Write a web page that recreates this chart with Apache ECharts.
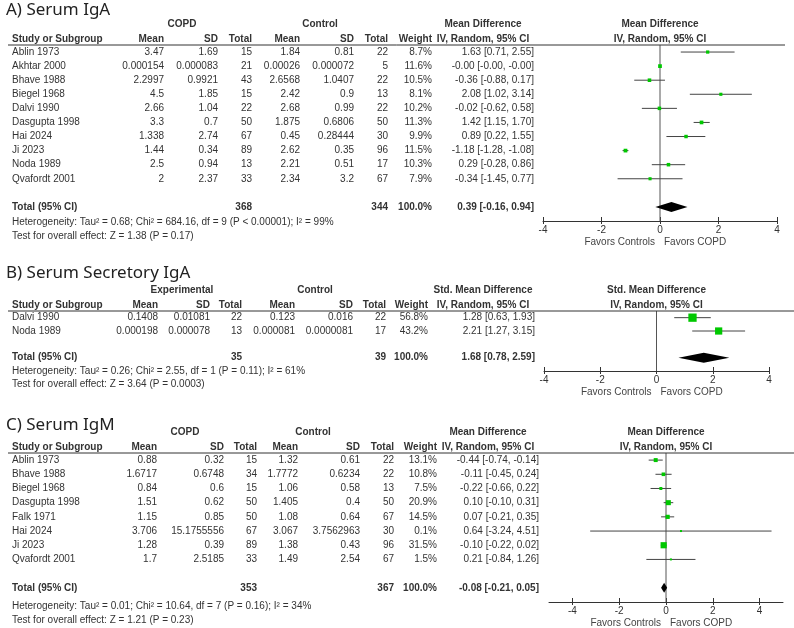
<!DOCTYPE html>
<html><head><meta charset="utf-8">
<script src="https://cdn.jsdelivr.net/npm/echarts@6/dist/echarts.min.js"></script>
<style>html,body{margin:0;padding:0;background:#fff}#c{width:794px;height:628px}</style>
</head><body><div id="c"></div><script>
// ---------------- Panel A: Serum IgA ----------------
const A_title = 'A) Serum IgA';
const A_groups = ['COPD', 'Control'];
const A_effectLabel = 'Mean Difference';
const A_studies = ['Ablin 1973','Akhtar 2000','Bhave 1988','Biegel 1968','Dalvi 1990','Dasgupta 1998','Hai 2024','Ji 2023','Noda 1989','Qvafordt 2001'];
const A_copdMean = [3.47, 0.000154, 2.2997, 4.5, 2.66, 3.3, 1.338, 1.44, 2.5, 2];
const A_copdSD   = [1.69, 0.000083, 0.9921, 1.85, 1.04, 0.7, 2.74, 0.34, 0.94, 2.37];
const A_copdN    = [15, 21, 43, 15, 22, 50, 67, 89, 13, 33];
const A_ctrlMean = [1.84, 0.00026, 2.6568, 2.42, 2.68, 1.875, 0.45, 2.62, 2.21, 2.34];
const A_ctrlSD   = [0.81, 0.000072, 1.0407, 0.9, 0.99, 0.6806, 0.28444, 0.35, 0.51, 3.2];
const A_ctrlN    = [22, 5, 22, 13, 22, 50, 30, 96, 17, 67];
const A_weight   = [8.7, 11.6, 10.5, 8.1, 10.2, 11.3, 9.9, 11.5, 10.3, 7.9];
const A_est      = [1.63, -0.0001, -0.36, 2.08, -0.02, 1.42, 0.89, -1.18, 0.29, -0.34];
const A_lo       = [0.71, -0.00015, -0.88, 1.02, -0.62, 1.15, 0.22, -1.28, -0.28, -1.45];
const A_hi       = [2.55, -0.00005, 0.17, 3.14, 0.58, 1.70, 1.55, -1.08, 0.86, 0.77];
const A_totalN   = [368, 344];
const A_totalEff = [0.39, -0.16, 0.94];
const A_hetero   = 'Heterogeneity: Tau\u00b2 = 0.68; Chi\u00b2 = 684.16, df = 9 (P < 0.00001); I\u00b2 = 99%';
const A_overall  = 'Test for overall effect: Z = 1.38 (P = 0.17)';

// ---------------- Panel B: Serum Secretory IgA ----------------
const B_title = 'B) Serum Secretory IgA';
const B_groups = ['Experimental', 'Control'];
const B_effectLabel = 'Std. Mean Difference';
const B_studies = ['Dalvi 1990', 'Noda 1989'];
const B_expMean  = [0.1408, 0.000198];
const B_expSD    = [0.01081, 0.000078];
const B_expN     = [22, 13];
const B_ctrlMean = [0.123, 0.000081];
const B_ctrlSD   = [0.016, 0.0000081];
const B_ctrlN    = [22, 17];
const B_weight   = [56.8, 43.2];
const B_est      = [1.28, 2.21];
const B_lo       = [0.63, 1.27];
const B_hi       = [1.93, 3.15];
const B_totalN   = [35, 39];
const B_totalEff = [1.68, 0.78, 2.59];
const B_hetero   = 'Heterogeneity: Tau\u00b2 = 0.26; Chi\u00b2 = 2.55, df = 1 (P = 0.11); I\u00b2 = 61%';
const B_overall  = 'Test for overall effect: Z = 3.64 (P = 0.0003)';

// ---------------- Panel C: Serum IgM ----------------
const C_title = 'C) Serum IgM';
const C_groups = ['COPD', 'Control'];
const C_effectLabel = 'Mean Difference';
const C_studies = ['Ablin 1973','Bhave 1988','Biegel 1968','Dasgupta 1998','Falk 1971','Hai 2024','Ji 2023','Qvafordt 2001'];
const C_copdMean = [0.88, 1.6717, 0.84, 1.51, 1.15, 3.706, 1.28, 1.7];
const C_copdSD   = [0.32, 0.6748, 0.6, 0.62, 0.85, 15.1755556, 0.39, 2.5185];
const C_copdN    = [15, 34, 15, 50, 50, 67, 89, 33];
const C_ctrlMean = [1.32, 1.7772, 1.06, 1.405, 1.08, 3.067, 1.38, 1.49];
const C_ctrlSD   = [0.61, 0.6234, 0.58, 0.4, 0.64, 3.7562963, 0.43, 2.54];
const C_ctrlN    = [22, 22, 13, 50, 67, 30, 96, 67];
const C_weight   = [13.1, 10.8, 7.5, 20.9, 14.5, 0.1, 31.5, 1.5];
const C_est      = [-0.44, -0.11, -0.22, 0.10, 0.07, 0.64, -0.10, 0.21];
const C_lo       = [-0.74, -0.45, -0.66, -0.10, -0.21, -3.24, -0.22, -0.84];
const C_hi       = [-0.14, 0.24, 0.22, 0.31, 0.35, 4.51, 0.02, 1.26];
const C_totalN   = [353, 367];
const C_totalEff = [-0.08, -0.21, 0.05];
const C_hetero   = 'Heterogeneity: Tau\u00b2 = 0.01; Chi\u00b2 = 10.64, df = 7 (P = 0.16); I\u00b2 = 34%';
const C_overall  = 'Test for overall effect: Z = 1.21 (P = 0.23)';

// shared
const tickValues = [-4, -2, 0, 2, 4];
const colHeaders = ['Mean', 'SD', 'Total', 'Mean', 'SD', 'Total'];
const favorsLabels = ['Favors Controls', 'Favors COPD'];

// ---------------- layout (positions & styles only) ----------------
const FONT = "'Liberation Sans', Arial, sans-serif";
const TITLE_FONT = "'Noto Sans', 'Open Sans', sans-serif";
const FS = 10;
const TXT = '#333';

const panels = [
  { title: A_title, groups: A_groups, eff: A_effectLabel, studies: A_studies,
    cols: [A_copdMean, A_copdSD, A_copdN, A_ctrlMean, A_ctrlSD, A_ctrlN],
    weight: A_weight, est: A_est, lo: A_lo, hi: A_hi, totalN: A_totalN, totalEff: A_totalEff,
    hetero: A_hetero, overall: A_overall,
    L: { grid: {left: 543, width: 234, top: 45, height: 176}, xr: [-4, 4],
         colX: [164, 218, 252, 300, 354, 388], weightX: 432, ciX: 534, groupX: [182, 320], effX: 483,
         titleY: 10, lineRight: 785, footDy: [15, 29] } },
  { title: B_title, groups: B_groups, eff: B_effectLabel, studies: B_studies,
    cols: [B_expMean, B_expSD, B_expN, B_ctrlMean, B_ctrlSD, B_ctrlN],
    weight: B_weight, est: B_est, lo: B_lo, hi: B_hi, totalN: B_totalN, totalEff: B_totalEff,
    hetero: B_hetero, overall: B_overall,
    L: { grid: {left: 544, width: 225, top: 311, height: 60}, xr: [-4, 4],
         colX: [158, 210, 242, 295, 353, 386], weightX: 428, ciX: 535, groupX: [182, 315], effX: 483,
         titleY: 273, lineRight: 794, footDy: [14, 27] } },
  { title: C_title, groups: C_groups, eff: C_effectLabel, studies: C_studies,
    cols: [C_copdMean, C_copdSD, C_copdN, C_ctrlMean, C_ctrlSD, C_ctrlN],
    weight: C_weight, est: C_est, lo: C_lo, hi: C_hi, totalN: C_totalN, totalEff: C_totalEff,
    hetero: C_hetero, overall: C_overall,
    L: { grid: {left: 549, width: 234, top: 453, height: 149}, xr: [-5, 5],
         colX: [157, 224, 257, 298, 360, 394], weightX: 437, ciX: 539, groupX: [185, 313], effX: 488,
         titleY: 425, lineRight: 794, footDy: [18, 32] } }
];

function T(x, y, s, align, bold, color) {
  return { type: 'text', silent: true, style: {
    x: x, y: y, text: String(s), align: align || 'left', verticalAlign: 'middle',
    fontFamily: FONT, fontSize: FS, fontWeight: bold ? 'bold' : 'normal', fill: color || TXT } };
}
function ciText(e, l, h) { return e.toFixed(2) + ' [' + l.toFixed(2) + ', ' + h.toFixed(2) + ']'; }

const grids = [], xAxes = [], yAxes = [], series = [];
panels.forEach((p, k) => {
  const n = p.studies.length, L = p.L;
  grids.push(Object.assign({ containLabel: false }, L.grid));
  const base = { type: 'value', gridIndex: k, position: 'bottom', min: L.xr[0], max: L.xr[1], splitLine: { show: false } };
  xAxes.push(Object.assign({}, base, {
    axisLine: { show: true, onZero: false, lineStyle: { color: '#333', width: 1 } },
    axisTick: { show: true, length: 3, inside: false, customValues: tickValues, lineStyle: { color: '#333' } },
    axisLabel: { show: true, customValues: tickValues, margin: 4, color: TXT, fontSize: FS, fontFamily: FONT }
  }));
  xAxes.push(Object.assign({}, base, {
    axisLine: { show: false, onZero: false },
    axisTick: { show: true, length: 4, inside: true, customValues: tickValues, lineStyle: { color: '#333' } },
    axisLabel: { show: false }
  }));
  yAxes.push({ type: 'value', gridIndex: k, inverse: true, min: -0.5, max: n + 2, show: false });
  const xi = k * 2, yi = k;

  // zero line
  series.push({ type: 'line', xAxisIndex: xi, yAxisIndex: yi, data: [[0, -0.5], [0, n + 2]],
    symbol: 'none', silent: true, z: 1, lineStyle: { color: '#555', width: 1 } });

  // forest marks
  const fdata = p.studies.map((s, i) => [p.est[i], i, p.lo[i], p.hi[i], p.weight[i], 0]);
  fdata.push([p.totalEff[0], n + 1, p.totalEff[1], p.totalEff[2], 100, 1]);
  series.push({ type: 'custom', xAxisIndex: xi, yAxisIndex: yi, clip: false, z: 3,
    encode: { x: 0, y: 1 }, data: fdata,
    renderItem: (params, api) => {
      const e = api.value(0), r = api.value(1), lo = api.value(2), hi = api.value(3), w = api.value(4), tot = api.value(5);
      const pm = api.coord([e, r]), pl = api.coord([lo, r]), ph = api.coord([hi, r]);
      if (tot) {
        const h = 5;
        return { type: 'polygon', shape: { points: [[pl[0], pm[1]], [pm[0], pm[1] - h], [ph[0], pm[1]], [pm[0], pm[1] + h]] },
          style: { fill: '#000' } };
      }
      const s = Math.max(2, 1.1 * Math.sqrt(w));
      return { type: 'group', children: [
        { type: 'line', shape: { x1: pl[0], y1: pm[1], x2: ph[0], y2: pm[1] }, style: { stroke: '#444', lineWidth: 1 } },
        { type: 'rect', shape: { x: pm[0] - s / 2, y: pm[1] - s / 2, width: s, height: s }, style: { fill: '#00c800' } }
      ] };
    } });

  // table text
  const tdata = p.studies.map((s, i) => [0, i, i]);
  tdata.push([0, n + 1, -1]);
  tdata.push([0, -0.5, -2]);
  series.push({ type: 'custom', xAxisIndex: xi, yAxisIndex: yi, clip: false, z: 4, silent: true,
    encode: { x: 0, y: 1 }, data: tdata,
    renderItem: (params, api) => {
      const r = api.value(1), kind = api.value(2);
      const y = api.coord([0, r])[1];
      const ch = [];
      if (kind >= 0) {
        const i = kind;
        ch.push(T(12, y, p.studies[i]));
        p.cols.forEach((c, j) => ch.push(T(L.colX[j], y, c[i], 'right')));
        ch.push(T(L.weightX, y, p.weight[i].toFixed(1) + '%', 'right'));
        ch.push(T(L.ciX, y, ciText(p.est[i], p.lo[i], p.hi[i]), 'right'));
      } else if (kind === -1) {
        ch.push(T(12, y, 'Total (95% CI)', 'left', true));
        ch.push(T(L.colX[2], y, p.totalN[0], 'right', true));
        ch.push(T(L.colX[5], y, p.totalN[1], 'right', true));
        ch.push(T(L.weightX, y, '100.0%', 'right', true));
        ch.push(T(L.ciX, y, ciText(p.totalEff[0], p.totalEff[1], p.totalEff[2]), 'right', true));
        ch.push(T(12, y + L.footDy[0], p.hetero));
        ch.push(T(12, y + L.footDy[1], p.overall));
      } else {
        const x0 = api.coord([0, r])[0];
        const yb = api.coord([0, n + 2])[1];
        ch.push({ type: 'text', silent: true, style: { x: 6, y: L.titleY, text: p.title, align: 'left', verticalAlign: 'middle',
          fontFamily: TITLE_FONT, fontSize: 17, fill: '#222' } });
        ch.push(T(L.groupX[0], y - 21, p.groups[0], 'center', true));
        ch.push(T(L.groupX[1], y - 21, p.groups[1], 'center', true));
        ch.push(T(12, y - 6, 'Study or Subgroup', 'left', true));
        colHeaders.forEach((h, j) => ch.push(T(L.colX[j], y - 6, h, 'right', true)));
        ch.push(T(L.weightX, y - 6, 'Weight', 'right', true));
        ch.push(T(L.effX, y - 21, p.eff, 'center', true));
        ch.push(T(L.effX, y - 6, 'IV, Random, 95% CI', 'center', true));
        ch.push(T(x0, y - 21, p.eff, 'center', true));
        ch.push(T(x0, y - 6, 'IV, Random, 95% CI', 'center', true));
        ch.push({ type: 'line', silent: true, shape: { x1: 8, y1: y, x2: L.lineRight, y2: y }, style: { stroke: '#333', lineWidth: 1 } });
        ch.push(T(x0 - 5, yb + 21, favorsLabels[0], 'right', false, '#444'));
        ch.push(T(x0 + 4, yb + 21, favorsLabels[1], 'left', false, '#444'));
      }
      return { type: 'group', children: ch };
    } });
});

const chart = echarts.init(document.getElementById('c'), null, { renderer: 'canvas' });
chart.setOption({ animation: false, backgroundColor: '#fff', grid: grids, xAxis: xAxes, yAxis: yAxes, series: series });
</script></body></html>
